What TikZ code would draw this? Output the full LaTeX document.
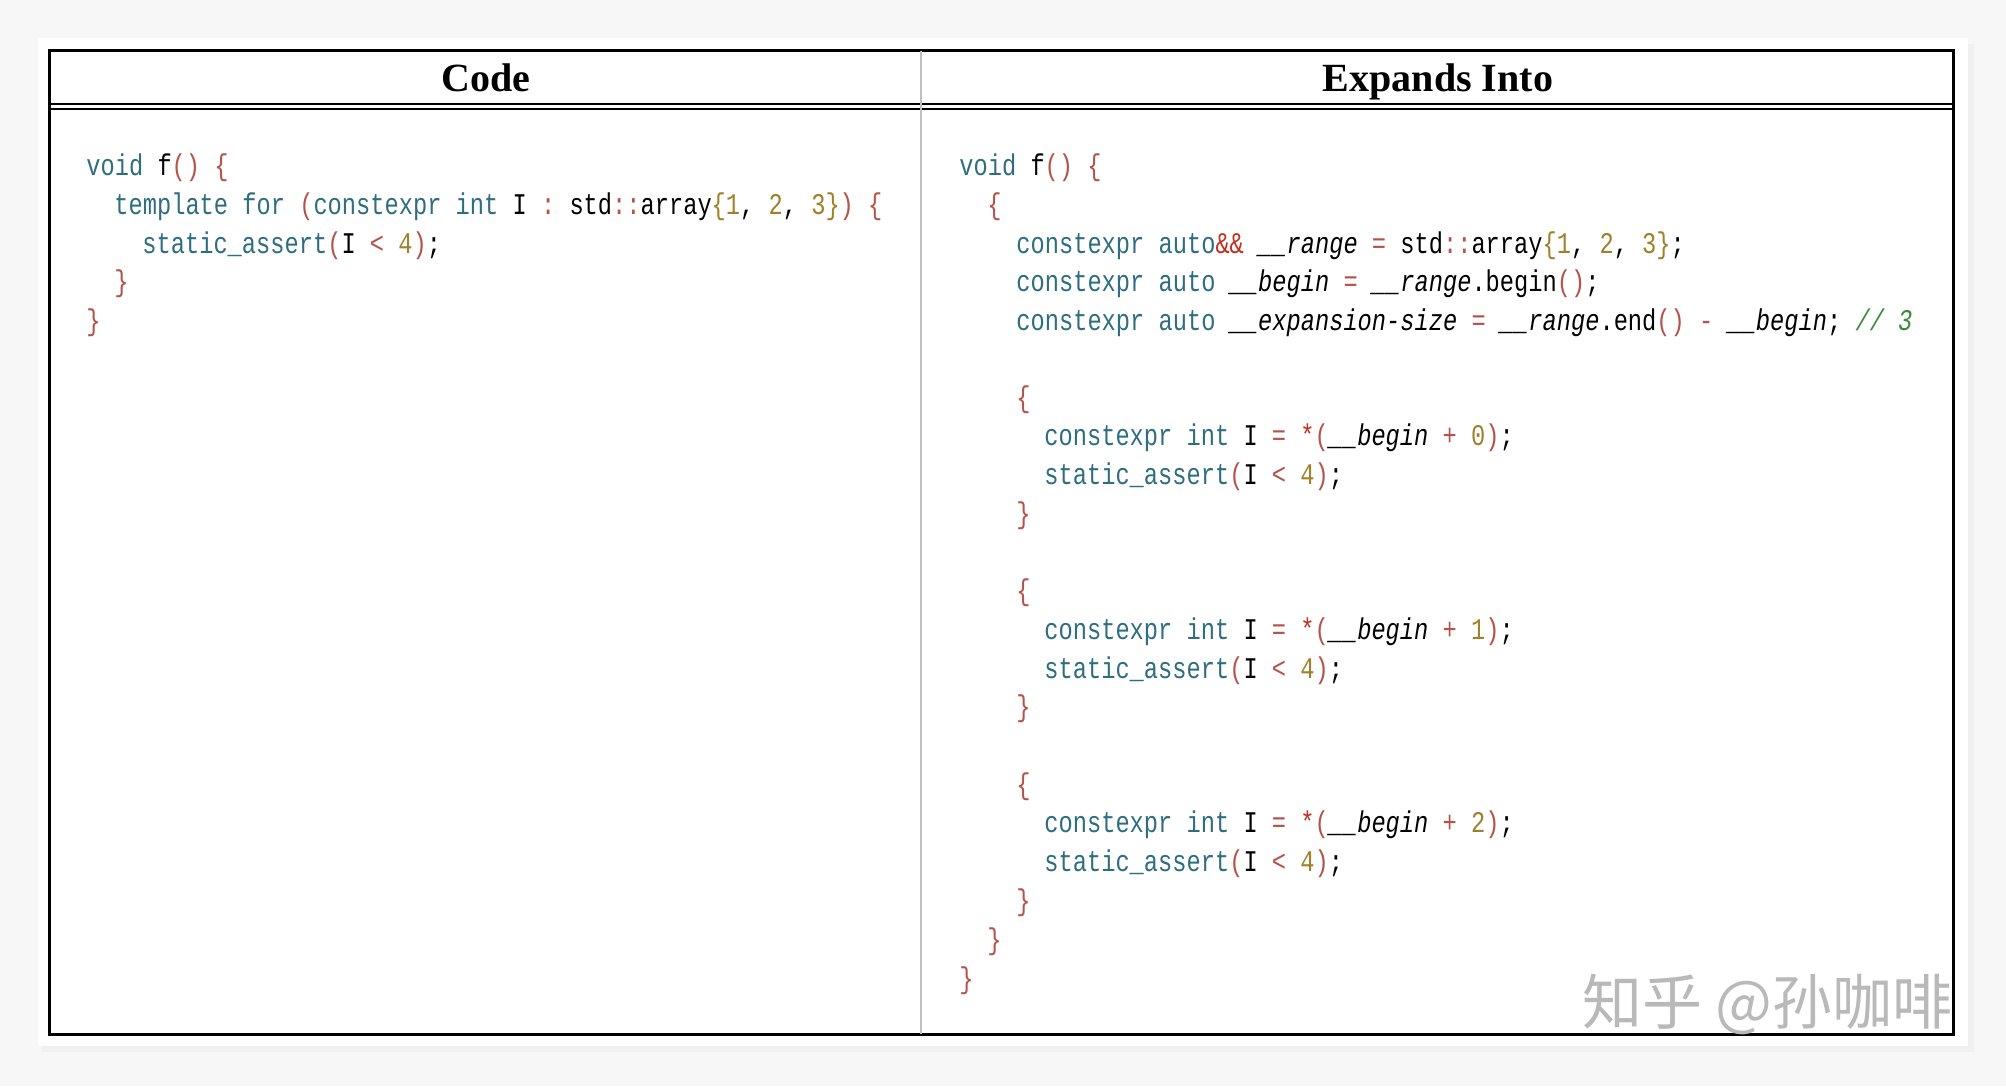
\documentclass[tikz,border=0pt]{standalone}
\usepackage{fontspec}
\setmainfont{Liberation Serif}
\newfontfamily\cf[FakeStretch=0.79]{Liberation Mono}
\newfontfamily\cjk{Noto Sans CJK SC}
\definecolor{kw}{HTML}{2E6E80}
\definecolor{br}{HTML}{B5524A}
\definecolor{nm}{HTML}{A0802A}
\definecolor{cm}{HTML}{3C8C3C}
\definecolor{am}{HTML}{C03020}
\newcommand\Kw[1]{\textcolor{kw}{#1}}
\newcommand\Br[1]{\textcolor{br}{#1}}
\newcommand\Nm[1]{\textcolor{nm}{#1}}
\newcommand\Cm[1]{\textcolor{cm}{#1}}
\newcommand\Am[1]{\textcolor{am}{#1}}
\newcommand\It[1]{\textit{#1}}
\begin{document}
\begin{tikzpicture}[x=0.5pt,y=-0.5pt,
  code/.style={anchor=base west,inner sep=0pt,font=\cf\fontsize{15pt}{18pt}\selectfont},
  head/.style={anchor=base,font=\bfseries\fontsize{20pt}{24pt}\selectfont,inner sep=0pt}]
\useasboundingbox (0,0) rectangle (2006,1086);
\fill[gray!6] (0,0) rectangle (2006,1086);
\fill[gray!12] (42,44) rectangle (1974,1052);
\fill[white] (38,38) rectangle (1968,1046);
% table
\draw[line width=1.5pt] (49,51) rectangle (1953,1034);
\draw[line width=1pt] (49,104) -- (1953,104);
\draw[line width=1pt] (49,109) -- (1953,109);
\draw[gray!50,line width=0.8pt] (921,51) -- (921,1034);
\node[head] (h1) at (486,92) {Code};
\node[head] (h2) at (1438,92) {Expands Into};
% left code
\node[code] (l0) at (86,175) {\Kw{void} f\Br{()} \Br{\{}};
\node[code] (l1) at (114,214) {\Kw{template} \Kw{for} \Br{(}\Kw{constexpr} \Kw{int} I \Br{:} std\Br{::}array\Nm{\{1}, \Nm{2}, \Nm{3\}}\Br{)} \Br{\{}};
\node[code] (l2) at (142,253) {\Kw{static\_assert}\Br{(}I \Br{<} \Nm{4}\Br{)};};
\node[code] (l3) at (114,291) {\Br{\}}};
\node[code] (l4) at (86,330) {\Br{\}}};
% right code
\begin{scope}
\clip (921,109) rectangle (1952,1033);
\node[code] (r0) at (959,175) {\Kw{void} f\Br{()} \Br{\{}};
\node[code] (r1) at (987,214) {\Br{\{}};
\node[code] (r2) at (1016,253) {\Kw{constexpr} \Kw{auto}\Am{\&\&} \It{\_\_range} \Br{=} std\Br{::}array\Nm{\{1}, \Nm{2}, \Nm{3\}};};
\node[code] (r3) at (1016,291) {\Kw{constexpr} \Kw{auto} \It{\_\_begin} \Br{=} \It{\_\_range}.begin\Br{()};};
\node[code] (r4) at (1016,330) {\Kw{constexpr} \Kw{auto} \It{\_\_expansion-size} \Br{=} \It{\_\_range}.end\Br{()} \Br{-} \It{\_\_begin}; \Cm{\It{// 3}}};
\foreach \k/\n [count=\i from 0] in {6/0,11/1,16/2}{
  \pgfmathsetmacro\yy{175+\k*38.7}
  \node[code] (ob\i) at (1016,\yy) {\Br{\{}};
  \node[code] (ce\i) at (1044,\yy+38.7) {\Kw{constexpr} \Kw{int} I \Br{=} \Am{*}\Br{(}\It{\_\_begin} \Br{+} \Nm{\n}\Br{)};};
  \node[code] (sa\i) at (1044,\yy+77.4) {\Kw{static\_assert}\Br{(}I \Br{<} \Nm{4}\Br{)};};
  \node[code] (cb\i) at (1016,\yy+116.1) {\Br{\}}};
}
\node[code] (r20) at (987,949) {\Br{\}}};
\node[code] (r21) at (959,988) {\Br{\}}};
\end{scope}
\node[anchor=west,inner sep=0pt,text=gray!55,font=\cjk\fontsize{30pt}{32pt}\selectfont] (wm) at (1582,1004) {知乎 @孙咖啡};
\end{tikzpicture}
\end{document}
